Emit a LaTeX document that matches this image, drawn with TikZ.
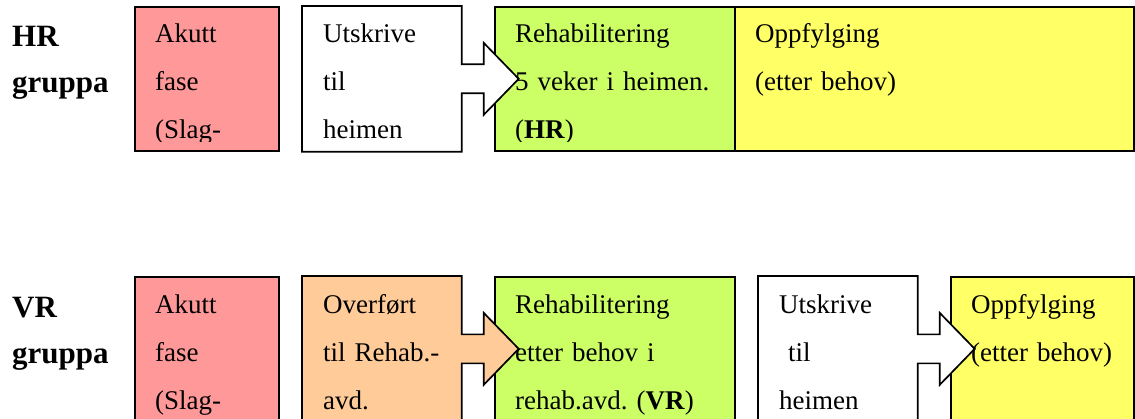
\documentclass[tikz,border=0pt]{standalone}
\usepackage{fontspec}
\setmainfont{Liberation Serif}
\frenchspacing
\definecolor{akutt}{HTML}{FF9999}
\definecolor{overfort}{HTML}{FFCC99}
\definecolor{rehab}{HTML}{CCFF66}
\definecolor{oppf}{HTML}{FFFF66}
\tikzset{
  every picture/.style={line join=miter},
  fase/.style={draw, line width=1.7pt, rectangle, anchor=north west, minimum height=144pt, inner sep=0pt},
  fasetxt/.style={anchor=base west, inner sep=0pt, text width=220pt, align=left, font=\fontsize{27}{48}\selectfont},
  gruppe/.style={anchor=base west, inner sep=0pt, text width=120pt, align=left, font=\fontsize{31}{46}\selectfont\bfseries},
  pilboks/.style={insert path={(#1.north west) -- (#1.north east) -- ([yshift=14.5pt]#1.east) -- ++(22,0) -- ++(0,21.5)
    -- ++(35,-36) -- ++(-35,-36) -- ++(0,21.5) -- ++(-22,0) -- (#1.south east) -- (#1.south west) -- cycle}},
}
% text inside a box, cut off at the bottom like the original
\newcommand{\fasetekst}[4][10pt]{%
  \begin{scope}
    \clip ([yshift=-0.8pt]#2.north west) rectangle ([yshift=#1]#2.south east);
    \node[fasetxt] (#3) at ([xshift=21pt,yshift=-37pt]#2.north west) {#4};
  \end{scope}}

\begin{document}
\begin{tikzpicture}[x=1pt,y=1pt]
\useasboundingbox (0,0) rectangle (1135,418);
% HR gruppa
\node[gruppe] (hr) at (12,371) {HR\\gruppa};
\node[fase, fill=akutt, minimum width=144pt] (akuttHR) at (134,412) {};
\node[fase, draw=none, minimum width=158pt] (utHR) at (302,412) {};
\node[fase, fill=rehab, minimum width=240pt] (rehabHR) at (494,412) {};
\node[fase, fill=oppf, minimum width=399pt] (oppfHR) at (734,412) {};
\draw[line width=1.7pt, fill=white] [pilboks=utHR];
\fasetekst{akuttHR}{akuttHRt}{Akutt\\fase\\(Slag-}
\fasetekst{utHR}{utHRt}{Utskrive\\til\\heimen}
\fasetekst{rehabHR}{rehabHRt}{Rehabilitering\\5 veker i heimen.\\(\textbf{HR})}
\fasetekst{oppfHR}{oppfHRt}{Oppfylging\\(etter behov)}
% VR gruppa
\node[gruppe] (vr) at (12,101) {VR\\gruppa};
\node[fase, fill=akutt, minimum width=144pt] (akuttVR) at (134,142) {};
\node[fase, draw=none, minimum width=158pt] (overVR) at (302,142) {};
\node[fase, fill=rehab, minimum width=240pt] (rehabVR) at (494,142) {};
\node[fase, draw=none, minimum width=158pt] (utVR) at (758,142) {};
\node[fase, fill=oppf, minimum width=183pt] (oppfVR) at (950,142) {};
\draw[line width=1.7pt, fill=overfort] [pilboks=overVR];
\draw[line width=1.7pt, fill=white] [pilboks=utVR];
\fasetekst[2pt]{akuttVR}{akuttVRt}{Akutt\\fase\\(Slag-}
\fasetekst[2pt]{overVR}{overVRt}{Overført\\til Rehab.-\\avd.}
\fasetekst[2pt]{rehabVR}{rehabVRt}{Rehabilitering\\etter behov i\\rehab.avd. (\textbf{VR})}
\fasetekst[2pt]{utVR}{utVRt}{Utskrive\\\ til\\heimen}
\fasetekst[2pt]{oppfVR}{oppfVRt}{Oppfylging\\(etter behov)}
\end{tikzpicture}
\end{document}
